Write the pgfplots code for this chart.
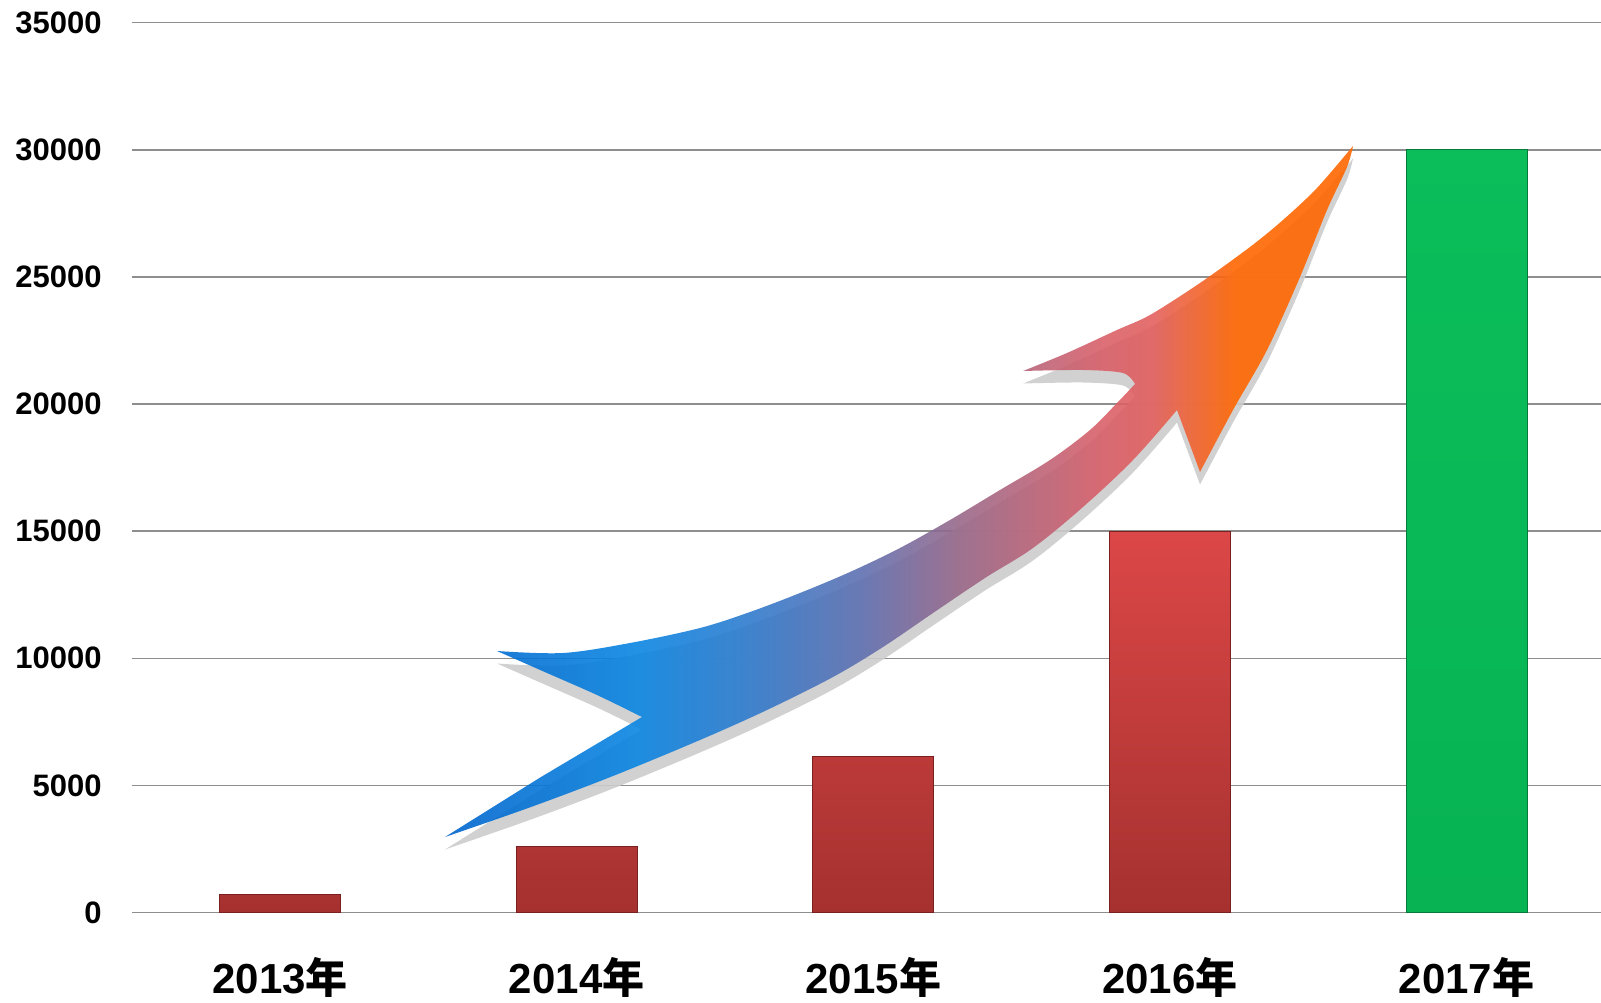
\documentclass[border=0pt]{standalone}
\usepackage{pgfplots}
\pgfplotsset{compat=1.18}
\usepackage{fontspec}
\setmainfont{Liberation Sans}
\newfontfamily\cjk{Noto Sans CJK SC}
\definecolor{gridc}{HTML}{8E8E8E}
\definecolor{redtop}{HTML}{DC4747}
\definecolor{redmid}{HTML}{CB3F3E}
\definecolor{redbot}{HTML}{A5312F}
\definecolor{rededge}{HTML}{7A2020}
\definecolor{grntop}{HTML}{0BBE5A}
\definecolor{grnbot}{HTML}{07B353}
\definecolor{grnedge}{HTML}{067A3A}
\definecolor{ab1}{HTML}{0064CC}
\definecolor{ab2}{HTML}{0A86E2}
\definecolor{ab3}{HTML}{2A7CD0}
\definecolor{ap1}{HTML}{6070B0}
\definecolor{ap2}{HTML}{9A6888}
\definecolor{apk}{HTML}{D8606A}
\definecolor{apk2}{HTML}{E2605E}
\definecolor{aor}{HTML}{FF6600}
\pgfdeclarehorizontalshading{arrowshade}{100bp}{color(0bp)=(ab1); color(25bp)=(ab1); color(35.5bp)=(ab2); color(41bp)=(ab3); color(48bp)=(ap1); color(53.5bp)=(ap2); color(61bp)=(apk); color(64bp)=(apk2); color(68.5bp)=(aor); color(100bp)=(aor)}
\begin{document}
\begin{tikzpicture}
\begin{axis}[
  at={(0,0)}, anchor=south west,
  scale only axis,
  width=734.65pt, height=444.9pt,
  xmin=-0.5, xmax=4.453,
  ymin=0, ymax=35000,
  axis line style={draw=none},
  tick style={draw=none},
  xtick={0,1,2,3,4},
  xticklabels={2013{\cjk 年},2014{\cjk 年},2015{\cjk 年},2016{\cjk 年},2017{\cjk 年}},
  ytick={0,5000,10000,15000,20000,25000,30000,35000},
  yticklabels={0,5000,10000,15000,20000,25000,30000,35000},
  ymajorgrids,
  major grid style={draw=gridc, line width=0.75pt},
  yticklabel style={anchor=east, inner sep=0pt, xshift=-14.85pt, font=\fontsize{15.5}{18}\selectfont\bfseries},
  xticklabel style={anchor=base, inner sep=0pt, yshift=-40.25pt, font=\fontsize{21}{25}\selectfont\bfseries},
  clip=false,
]
\addplot[ybar, bar width=60.5pt, bar shift=0pt, draw=rededge, line width=0.5pt, top color=redtop, middle color=redmid, bottom color=redbot]
  coordinates {(0,700) (1,2600) (2,6150) (3,15000)};
\addplot[ybar, bar width=60.5pt, bar shift=0pt, draw=grnedge, line width=0.5pt, top color=grntop, bottom color=grnbot]
  coordinates {(4,30000)};
\end{axis}
\begin{scope}[shift={(-65.85pt,456.25pt)}, x=0.5pt, y=-0.5pt]
\def\arrowpath{(497,651) -- plot[smooth, tension=0.55] coordinates {(497,651) (563,653) (630,643) (700,628) (750,612) (800,593) (850,572) (900,548) (950,520) (1000,490) (1050,460) (1090,430) (1117,403) (1135,384)}
 -- plot[smooth, tension=0.5] coordinates {(1135,384) (1123,373) (1083,370) (1023,371)}
 -- plot[smooth, tension=0.5] coordinates {(1023,371) (1067,353) (1117,330) (1150,315) (1200,283) (1250,247) (1283,220) (1317,188) (1353,146)}
 -- plot[smooth, tension=0.5] coordinates {(1353,146) (1347,167) (1327,210) (1300,277) (1267,350) (1233,410) (1200,472)}
 -- (1177,410)
 -- plot[smooth, tension=0.55] coordinates {(1177,410) (1133,460) (1083,507) (1033,548) (985,578) (933,613) (883,647) (833,677) (767,710) (700,740) (613,776) (531,807) (445,837)}
 -- (541,777) -- (642,717)
 -- plot[smooth, tension=0.5] coordinates {(642,717) (597,695) (547,673) (497,651)} -- cycle}
\begin{scope}[shift={(0,12.5)}]
\fill[black!20, fill opacity=0.9] \arrowpath;
\end{scope}
\shade[shading=arrowshade, fill opacity=0.9] \arrowpath;
\end{scope}
\pgfresetboundingbox
\path[use as bounding box] (-65.85pt,-44.75pt) rectangle (734.65pt,456.25pt);
\end{tikzpicture}
\end{document}
